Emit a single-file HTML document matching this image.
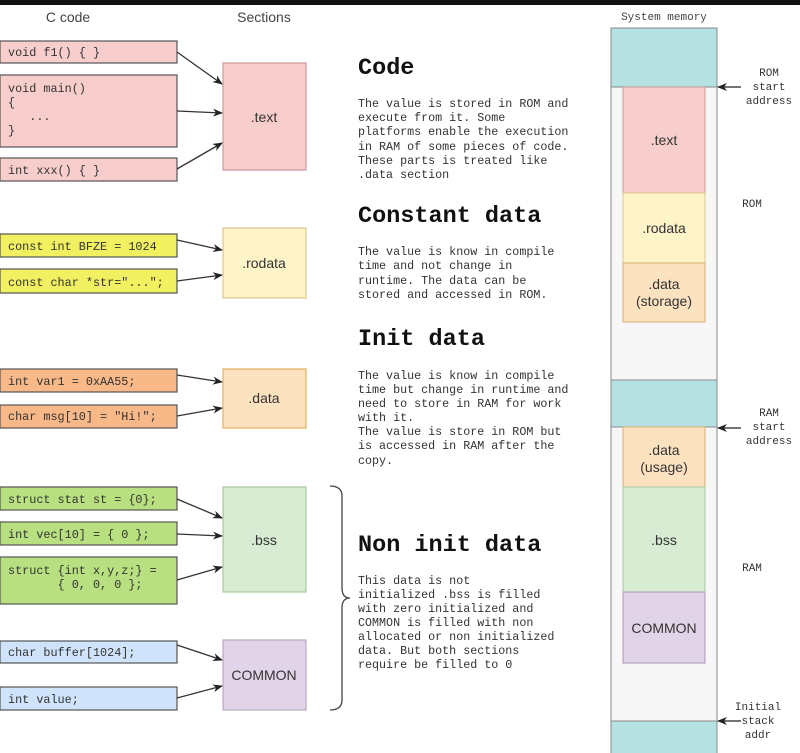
<!DOCTYPE html>
<html><head><meta charset="utf-8"><style>
html,body{margin:0;padding:0;background:#fff;width:800px;height:753px;overflow:hidden}
svg{display:block}
text{white-space:pre}
.m{font-family:"Liberation Mono",monospace}
.s{font-family:"Liberation Sans",sans-serif}
</style></head><body>
<svg width="800" height="753" viewBox="0 0 800 753" xmlns="http://www.w3.org/2000/svg" xml:space="preserve">
<defs><marker id="a" markerWidth="10" markerHeight="10" refX="9" refY="5" orient="auto" markerUnits="userSpaceOnUse"><path d="M0,1 L10,5 L0,9 L3,5 z" fill="#222"/></marker></defs>
<rect x="0" y="0" width="800" height="5" fill="#111"/>
<text x="68" y="22" class="s" font-size="14" fill="#444" text-anchor="middle">C code</text>
<text x="264" y="22" class="s" font-size="14" fill="#444" text-anchor="middle">Sections</text>
<text x="664" y="20" class="m" font-size="11" fill="#444" text-anchor="middle">System memory</text>

<g stroke="#555" stroke-width="1.2">
<rect x="0" y="41" width="177" height="22" fill="#f8cecc"/>
<rect x="0" y="75" width="177" height="72" fill="#f8cecc"/>
<rect x="0" y="158" width="177" height="23" fill="#f8cecc"/>
<rect x="223" y="63" width="83" height="107" fill="#f8cecc" stroke="#c99"/>
<rect x="0" y="234" width="177" height="23" fill="#f0f060"/>
<rect x="0" y="269" width="177" height="24" fill="#f0f060"/>
<rect x="223" y="228" width="83" height="70" fill="#fff3c8" stroke="#d8c890"/>
<rect x="0" y="369" width="177" height="23" fill="#f8b888"/>
<rect x="0" y="405" width="177" height="23" fill="#f8b888"/>
<rect x="223" y="369" width="83" height="59" fill="#fde2c0" stroke="#e0b060"/>
<rect x="0" y="487" width="177" height="23" fill="#b8e080"/>
<rect x="0" y="522" width="177" height="23" fill="#b8e080"/>
<rect x="0" y="557" width="177" height="47" fill="#b8e080"/>
<rect x="223" y="487" width="83" height="105" fill="#d8ecd4" stroke="#a8c8a0"/>
<rect x="0" y="641" width="177" height="22" fill="#cfe4fa"/>
<rect x="0" y="687" width="177" height="23" fill="#cfe4fa"/>
<rect x="223" y="640" width="83" height="70" fill="#e2d4e8" stroke="#b8a8c0"/>
</g>
<g class="m" font-size="11.8" fill="#333">
<text x="8" y="56">void f1() { }</text>
<text x="8" y="92">void main()</text>
<text x="8" y="106">{</text>
<text x="8" y="120">   ...</text>
<text x="8" y="134">}</text>
<text x="8" y="174">int xxx() { }</text>
<text x="8" y="250">const int BFZE = 1024</text>
<text x="8" y="286">const char *str="...";</text>
<text x="8" y="385">int var1 = 0xAA55;</text>
<text x="8" y="420">char msg[10] = "Hi!";</text>
<text x="8" y="503">struct stat st = {0};</text>
<text x="8" y="538">int vec[10] = { 0 };</text>
<text x="8" y="574">struct {int x,y,z;} =</text>
<text x="8" y="588">       { 0, 0, 0 };</text>
<text x="8" y="656">char buffer[1024];</text>
<text x="8" y="703">int value;</text>
</g>
<g class="s" font-size="14" fill="#333" text-anchor="middle">
<text x="264" y="122">.text</text>
<text x="264" y="268">.rodata</text>
<text x="264" y="403">.data</text>
<text x="264" y="545">.bss</text>
<text x="264" y="680">COMMON</text>
</g>
<g stroke="#333" stroke-width="1.3" marker-end="url(#a)" fill="none">
<line x1="177" y1="52" x2="222" y2="84"/>
<line x1="177" y1="111" x2="222" y2="113"/>
<line x1="177" y1="169" x2="222" y2="143"/>
<line x1="177" y1="240" x2="222" y2="250"/>
<line x1="177" y1="281" x2="222" y2="275"/>
<line x1="177" y1="375" x2="222" y2="382"/>
<line x1="177" y1="416" x2="222" y2="408"/>
<line x1="177" y1="499" x2="222" y2="518"/>
<line x1="177" y1="534" x2="222" y2="536"/>
<line x1="177" y1="580" x2="222" y2="567"/>
<line x1="177" y1="645" x2="222" y2="660"/>
<line x1="177" y1="698" x2="222" y2="686"/>
</g>
<path d="M330,486 Q342,486 342,496 L342,588 Q342,598 350,598 Q342,598 342,608 L342,700 Q342,710 330,710" fill="none" stroke="#444" stroke-width="1.3"/>

<g class="m" font-weight="bold" font-size="23.5" fill="#111">
<text x="358" y="74">Code</text>
<text x="358" y="222">Constant data</text>
<text x="358" y="345">Init data</text>
<text x="358" y="551">Non init data</text>
</g>
<g class="m" font-size="11.7" fill="#333">
<text x="358" y="107">The value is stored in ROM and</text>
<text x="358" y="121">execute from it. Some</text>
<text x="358" y="135">platforms enable the execution</text>
<text x="358" y="150">in RAM of some pieces of code.</text>
<text x="358" y="164">These parts is treated like</text>
<text x="358" y="178">.data section</text>
<text x="358" y="255">The value is know in compile</text>
<text x="358" y="269">time and not change in</text>
<text x="358" y="284">runtime. The data can be</text>
<text x="358" y="298">stored and accessed in ROM.</text>
<text x="358" y="379">The value is know in compile</text>
<text x="358" y="393">time but change in runtime and</text>
<text x="358" y="407">need to store in RAM for work</text>
<text x="358" y="421">with it.</text>
<text x="358" y="435">The value is store in ROM but</text>
<text x="358" y="449">is accessed in RAM after the</text>
<text x="358" y="464">copy.</text>
<text x="358" y="584">This data is not</text>
<text x="358" y="598">initialized .bss is filled</text>
<text x="358" y="612">with zero initialized and</text>
<text x="358" y="626">COMMON is filled with non</text>
<text x="358" y="640">allocated or non initialized</text>
<text x="358" y="654">data. But both sections</text>
<text x="358" y="668">require be filled to 0</text>
</g>

<g stroke="#888" stroke-width="1">
<rect x="611" y="28" width="106" height="740" fill="#f7f7f7"/>
<rect x="611" y="28" width="106" height="59" fill="#b5e1e3"/>
<rect x="611" y="380" width="106" height="47" fill="#b5e1e3"/>
<rect x="611" y="721" width="106" height="40" fill="#b5e1e3"/>
<rect x="623" y="87" width="82" height="106" fill="#f8cecc" stroke="#c99"/>
<rect x="623" y="193" width="82" height="70" fill="#fff3c8" stroke="#d8c890"/>
<rect x="623" y="263" width="82" height="59" fill="#fde2c0" stroke="#d8b070"/>
<rect x="623" y="427" width="82" height="60" fill="#fde2c0" stroke="#d8b070"/>
<rect x="623" y="487" width="82" height="105" fill="#d8ecd4" stroke="#a8c8a0"/>
<rect x="623" y="592" width="82" height="71" fill="#e2d4e8" stroke="#a898b0"/>
</g>
<g class="s" font-size="14" fill="#333" text-anchor="middle">
<text x="664" y="145">.text</text>
<text x="664" y="233">.rodata</text>
<text x="664" y="289">.data</text>
<text x="664" y="306">(storage)</text>
<text x="664" y="455">.data</text>
<text x="664" y="472">(usage)</text>
<text x="664" y="545">.bss</text>
<text x="664" y="633">COMMON</text>
</g>
<g stroke="#222" stroke-width="1.3" marker-end="url(#a)">
<line x1="741" y1="87" x2="718" y2="87"/>
<line x1="741" y1="428" x2="718" y2="428"/>
<line x1="741" y1="721" x2="718" y2="721"/>
</g>
<g class="m" font-size="11" fill="#333" text-anchor="middle">
<text x="769" y="76">ROM</text>
<text x="769" y="90">start</text>
<text x="769" y="104">address</text>
<text x="752" y="207">ROM</text>
<text x="769" y="416">RAM</text>
<text x="769" y="430">start</text>
<text x="769" y="444">address</text>
<text x="752" y="571">RAM</text>
<text x="758" y="710">Initial</text>
<text x="758" y="724">stack</text>
<text x="758" y="738">addr</text>
</g>
</svg>
</body></html>
